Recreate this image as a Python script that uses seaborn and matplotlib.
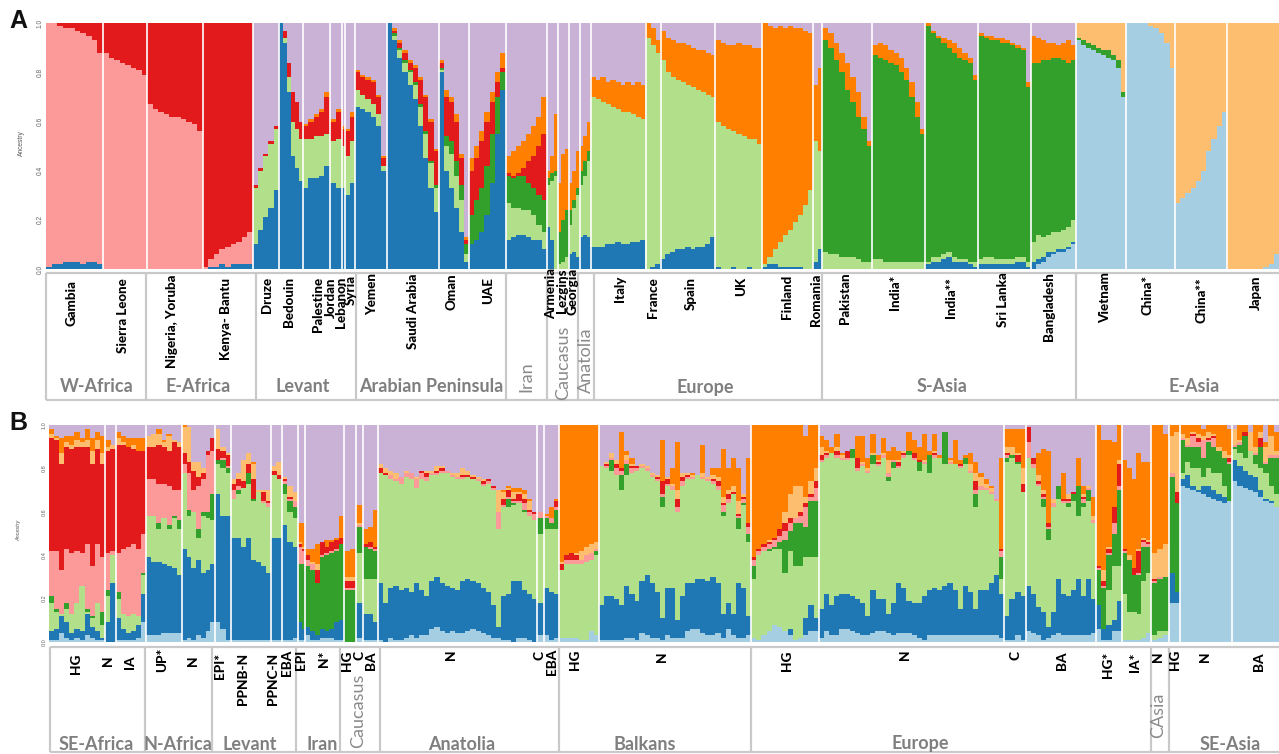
import matplotlib
matplotlib.use("Agg")
import matplotlib.pyplot as plt
import pandas as pd
import seaborn as sns

sns.set_theme(style="white")
plt.rcParams["font.family"] = ["Lato", "DejaVu Sans"]

# Components, bottom to top; values below are the upper edge of each component (percent)
COMPONENTS = ["lb", "b", "lg", "g", "p", "r", "lo", "o", "v"]
PALETTE = dict(zip(COMPONENTS, sns.color_palette("Paired", 9)))

# ---------- Panel A ----------
A_gambia = dict(b=[1,2,2,3,3,3,2,3,3,2], p=[100,100,99,98,98,97,96,95,93,88], r=[100]*10)
A_sierra = dict(p=[88,86,85,84,83,82,81,79], r=[100]*8)
A_nigeria = dict(p=[67,65,64,63,62,62,61,60,59,56], r=[100]*10)
A_kenya = dict(b=[0,1,1,2,1,2,2,2,2], p=[1,4,6,8,9,10,11,13,15], r=[100]*9)
A_druze = dict(b=[10,16,21,25,32], lg=[33,40,46,51,57], r=[34,41,47,52,58])
A_bedouin = dict(b=[100,92,72,46,41,36], lg=[100,94,78,60,57,53], r=[100,97,84,72,68,60])
A_palestine = dict(b=[33,37,37,38,42], lg=[53,53,54,54,55], r=[58,60,62,64,70], o=[59,61,63,65,72])
A_jordan = dict(b=[35,33], lg=[52,53], r=[60,64], o=[61,65])
A_lebanon = dict(b=[33,33], lg=[50,50], r=[57,57], o=[58,58])
A_syria = dict(b=[30,35], lg=[46,52], r=[56,62], o=[57,64])
A_yemen = dict(b=[66,65,64,62,58,40], lg=[73,71,69,67,63,42], r=[80,78,77,76,70,45], o=[81,79,78,77,71,46])
A_saudi = dict(b=[100,93,86,80,75,69,58,45,33,23], lg=[100,95,89,84,80,75,66,55,43,33],
               g=[100,96,90,85,81,76,67,56,44,34], r=[100,97,92,88,84,82,77,70,60,48],
               o=[100,98,93,89,85,83,78,71,61,49])
A_oman = dict(b=[80,40,33,25,15,3], lg=[81,50,47,38,28,6], g=[82,54,52,44,34,10],
              r=[84,70,68,60,45,12], o=[85,73,70,63,47,13])
A_uae = dict(b=[10,12,15,22,35,55,73], g=[22,28,33,42,55,70,80], r=[40,45,52,60,68,76,82],
             o=[45,50,56,64,72,80,88])
A_iran = dict(b=[12,13,14,14,13,12,12,8], lg=[27,25,25,24,24,22,18,15], g=[38,37,38,38,35,33,30,28],
              r=[39,38,39,41,44,46,50,55], o=[46,48,50,52,55,58,62,70])
A_armenia = dict(b=[17,12,0], lg=[34,36,38], g=[37,39,40], o=[40,46,63])
A_lezgins = dict(lg=[2,3,5], g=[15,20,24], o=[35,47,49])
A_georgia = dict(b=[6,7,5], lg=[18,25,30], g=[24,28,33], o=[35,40,48])
A_anatolia = dict(b=[13,14,13], lg=[34,38,44], g=[40,44,48], o=[50,54,60])
A_italy = dict(b=[9,9,9,10,10,11,10,10,11,11,12], lg=[70,69,68,67,66,65,64,64,63,62,61],
               o=[78,77,78,76,77,76,75,76,75,76,75])
A_france = dict(b=[0,1,2], lg=[94,91,88], o=[100,98,93])
A_spain = dict(b=[4,6,7,8,8,9,8,9,9,10,13], lg=[85,80,78,77,76,75,74,73,72,71,70],
               o=[97,94,93,92,92,91,90,89,89,88,87])
A_uk = dict(b=[1,0,0,1,0,0,1,0,0], lg=[60,58,57,56,55,54,53,53,51], o=[93,92,91,91,92,91,91,90,90])
A_finland = dict(b=[1,2,2,1,1,1,1,1,0,0], lg=[2,5,8,11,14,16,19,22,26,32],
                 o=[100,99,98,99,98,99,98,98,97,96])
A_romania = dict(b=[3,8], lg=[52,48], o=[75,82])
A_pakistan = dict(lg=[7,6,6,5,5,5,4,3,3], g=[93,90,85,80,73,68,62,57,50], o=[98,96,92,88,84,78,72,62,52])
A_india1 = dict(lg=[4,4,3,3,3,3,3,3,3,3], g=[87,86,85,84,83,80,77,70,62,55], o=[91,92,91,89,88,86,82,76,68,57])
A_india2 = dict(b=[2,3,3,4,5,3,3,3,2,1], lg=[3,5,5,6,7,5,4,4,3,3], g=[99,96,94,92,90,88,86,85,84,77],
                o=[100,97,95,94,93,92,90,88,86,79])
A_srilanka = dict(b=[2,2,2,2,2,2,2,3,3,1], lg=[4,5,5,4,4,4,4,5,5,3], g=[95,94,93,93,92,92,91,90,89,74],
                  o=[96,95,95,94,94,93,92,91,90,76])
A_bangladesh = dict(lb=[0,2,3,5,6,7,7,8,10], b=[3,4,5,7,7,8,8,9,11], lg=[11,14,13,14,15,15,16,17,20],
                    g=[84,84,85,85,86,86,85,84,85], o=[95,94,93,92,92,91,92,93,91])
A_vietnam = dict(lb=[93,91,90,89,88,87,86,85,82,70], g=[94,93,92,91,90,89,89,87,85,72], lo=[100]*10)
A_china1 = dict(lb=[100,100,100,100,99,98,96,92,82], lo=[100]*9)
A_china2 = dict(lb=[27,29,31,33,36,40,48,53,58,64], lo=[100]*10)
A_japan = dict(lb=[0,0,0,0,0,0,0,1,2,6], lo=[100]*10)

A_POPS = [A_gambia, A_sierra, A_nigeria, A_kenya, A_druze, A_bedouin, A_palestine, A_jordan, A_lebanon,
          A_syria, A_yemen, A_saudi, A_oman, A_uae, A_iran, A_armenia, A_lezgins, A_georgia, A_anatolia,
          A_italy, A_france, A_spain, A_uk, A_finland, A_romania, A_pakistan, A_india1, A_india2,
          A_srilanka, A_bangladesh, A_vietnam, A_china1, A_china2, A_japan]
A_SAMPLES = [57,44,56,50,26,24,27,12,3,10,32,52,30,37,41,11,11,11,11,55,15,55,47,51,9,50,53,53,53,45,50,49,52,52]

# ---------- Panel B ----------
B_seafrica_hg = dict(lb=[1,1,4,2,1,2,1,3,2,1,1], b=[5,6,12,9,4,6,5,13,7,5,2], lg=[18,14,13,15,13,18,26,14,11,18,8],
    g=[21,15,13,18,13,18,26,15,12,18,14], p=[42,42,33,43,41,42,41,45,35,45,39], r=[94,93,82,90,89,90,90,90,82,89,82],
    lo=[96,94,87,92,91,93,92,93,88,93,87], o=[98,95,94,95,95,97,94,98,94,97,95])
B_seafrica_n = dict(lb=[0,0], b=[9,27], lg=[21,40], g=[24,40], p=[41,42], r=[88,89], lo=[90,91], o=[93,91])
B_seafrica_ia = dict(lb=[1,1,1,1,2,9], b=[11,6,4,5,8,22], lg=[20,13,12,13,12,31], g=[23,13,12,13,12,32],
    p=[41,43,44,45,43,50], r=[91,91,90,89,88,88], lo=[94,92,90,91,88,88], o=[97,95,94,94,94,94])
B_nafrica_up = dict(lb=[3,3,3,4,4,4,4], b=[39,37,37,36,35,34,31], lg=[58,58,52,57,52,57,52], g=[58,58,55,57,54,58,56],
    p=[75,75,73,73,72,70,70], r=[90,90,91,90,88,92,90], lo=[95,96,96,92,95,93,92], o=[95,96,98,93,96,93,92])
B_nafrica_n = dict(lb=[1,2,1,3,2,5,9], b=[43,39,34,38,32,33,36], lg=[78,58,60,48,58,57,56], g=[78,61,60,52,60,60,68],
    p=[82,78,70,72,75,86,88], r=[87,83,79,76,78,88,94], lo=[99,99,83,83,80,88,94], o=[100,99,83,83,80,88,94])
B_levant_epi = dict(lb=[9,6,1], b=[68,58,58], lg=[82,80,78], g=[84,84,80], p=[84,85,81], r=[89,88,86], lo=[98,90,87], o=[98,90,87])
B_levant_ppnb = dict(lb=[1,1,1,1,1,1,1,1], b=[48,48,44,48,38,37,35,32], lg=[66,68,71,73,65,69,64,62], g=[66,70,71,78,66,69,64,62],
    p=[70,72,71,78,66,69,65,64], r=[73,75,74,82,75,69,69,65], lo=[75,78,84,87,82,70,70,70], o=[75,78,84,87,83,70,70,70])
B_levant_ppnc = dict(lb=[1,1], b=[48,48], lg=[77,75], g=[77,75], p=[77,75], r=[79,77], lo=[81,83], o=[81,83])
B_levant_eba = dict(lb=[1,1,2], b=[54,46,44], lg=[68,60,57], g=[73,65,62], p=[74,66,65], r=[75,67,65], lo=[76,72,69], o=[76,72,69])
B_iran_epi = dict(lb=[1,1], b=[9,6], lg=[9,6], g=[36,36], p=[44,42], r=[45,43], lo=[46,44], o=[55,55])
B_iran_n = dict(lb=[3,1,1,2,2,2,1,1], b=[7,5,3,6,5,6,9,10], lg=[7,5,3,6,5,6,9,10], g=[35,33,27,39,40,41,42,45],
    p=[38,36,27,40,41,42,43,45], r=[40,36,33,46,44,46,47,48], lo=[40,37,36,46,44,46,47,48], o=[43,43,45,46,47,47,48,58])
B_cauc_hg = dict(g=[24,24], p=[25,25], r=[28,28], lo=[30,30], o=[42,43])
B_cauc_c = dict(lb=[2,2], b=[18,18], lg=[41,41], g=[53,53], p=[54,54], r=[54,54], lo=[55,55], o=[63,63])
B_cauc_ba = dict(lb=[1,1,1], b=[13,13,9], lg=[29,29,29], g=[44,43,42], p=[44,44,43], r=[45,46,44], lo=[45,46,44], o=[52,53,61])
B_anat_n = dict(
    lb=[1,0,2,1,1,2,3,2,3,3,6,7,5,4,5,4,4,5,6,5,4,3,2,2,1,1,0,2,2,1,0],
    b=[27,18,25,26,24,25,23,27,24,21,28,30,27,26,25,24,28,29,28,27,25,23,17,7,21,22,28,28,24,22,20],
    lg=[78,77,75,74,73,76,75,71,75,74,77,77,78,78,76,75,75,76,75,74,72,73,70,52,62,62,63,64,60,58,56],
    g=[78,77,75,74,73,76,75,71,75,74,77,77,78,78,76,75,75,76,75,74,72,73,70,52,62,66,64,64,61,58,56],
    p=[78,77,77,75,76,78,78,75,78,76,78,78,79,79,77,76,76,76,75,75,73,74,71,60,63,67,65,65,64,60,59],
    r=[80,78,77,75,76,78,78,75,79,78,78,79,80,79,77,76,77,77,76,75,74,75,72,60,66,70,66,68,66,61,60],
    lo=[82,80,79,78,76,79,78,76,79,79,79,81,81,79,78,78,80,79,77,76,75,75,72,70,69,71,69,69,68,65,60],
    o=[82,80,79,78,76,79,78,76,79,79,79,81,81,79,78,78,80,79,77,76,75,75,72,70,70,72,71,71,70,66,60])
B_anat_c = dict(lb=[3,3], b=[18,18], lg=[50,50], g=[57,57], p=[60,60], r=[60,60], lo=[60,60], o=[60,60])
B_anat_eba = dict(lb=[3,1,2], b=[25,23,22], lg=[52,52,52], g=[57,55,61], p=[58,57,62], r=[58,57,65], lo=[58,57,65], o=[59,62,66])
B_balk_hg = dict(lb=[2,2,2,2,1,1,5,3], lg=[33,36,36,36,36,37,38,40], g=[33,36,36,36,36,37,38,42],
    p=[33,38,38,38,38,40,41,43], r=[36,40,41,40,38,40,41,43], lo=[37,40,41,41,42,44,45,46], o=[100]*8)
B_balk_n = dict(
    lb=[1,1,1,1,1,2,2,1,4,3,2,2,1,3,2,2,2,5,6,6,4,3,3,4,2,6,3,2,2,3],
    b=[17,21,21,20,17,26,22,19,28,31,27,23,11,25,25,10,21,27,27,29,29,28,30,27,13,18,13,27,25,12],
    lg=[81,80,79,77,70,77,78,79,80,79,76,74,62,72,70,60,72,75,75,77,75,74,73,70,58,64,68,52,63,46],
    g=[81,80,84,77,77,82,78,79,80,79,76,74,67,72,70,60,72,75,75,77,75,74,73,70,60,64,68,57,64,50],
    p=[81,81,85,80,79,84,80,80,81,80,77,75,68,73,72,62,74,76,76,77,76,75,74,72,63,66,68,58,66,53],
    r=[81,82,85,82,80,84,81,81,81,80,77,76,74,75,72,66,76,77,76,77,76,75,75,74,64,68,69,59,67,55],
    lo=[81,83,87,84,80,86,82,81,82,81,78,77,74,76,73,70,78,78,77,77,78,76,77,76,67,70,72,65,68,55],
    o=[81,83,87,84,97,88,85,81,82,81,78,77,93,76,80,92,78,78,78,77,91,76,80,80,89,80,85,80,68,85])
B_eur_hg = dict(lb=[2,1,3,5,8,7,5,3,1,2,3,5,5], b=[2,1,3,5,8,7,5,6,1,2,11,17,11],
    lg=[29,40,42,42,43,43,32,42,35,35,39,39,39], g=[35,40,42,43,44,46,47,51,55,55,53,65,65],
    p=[38,42,44,45,47,49,51,55,57,58,62,67,71], r=[39,43,45,46,48,52,55,57,57,60,64,68,74],
    lo=[39,43,45,47,48,52,60,68,72,72,67,74,80], o=[100,100,100,100,100,100,100,100,100,100,95,100,100])
B_eur_n = dict(
    lb=[2,5,3,3,6,6,5,4,3,3,4,5,5,4,3,4,4,4,3,2,1,3,3,3,3,3,3,3,3,3,3,3,3,3,3,2],
    b=[15,22,17,21,22,22,21,20,18,12,24,20,20,13,18,27,25,19,18,18,21,24,25,24,26,27,24,15,26,23,15,24,24,27,31,22],
    lg=[83,85,87,85,84,84,85,79,81,78,82,81,85,74,80,80,85,86,84,79,82,78,85,85,82,82,82,80,82,78,62,70,70,68,65,29],
    g=[83,85,87,85,84,84,89,79,81,78,86,81,85,76,83,80,85,88,84,83,82,86,85,85,97,82,82,80,85,78,68,70,70,68,65,39],
    p=[84,86,87,86,85,85,89,80,82,79,86,82,86,78,84,81,86,88,85,83,83,86,86,85,97,83,82,81,85,79,70,72,71,69,66,42],
    r=[86,87,87,88,85,88,89,85,82,79,86,83,86,78,84,83,87,88,87,84,83,86,87,85,97,83,82,82,85,79,74,72,71,69,66,43],
    lo=[90,88,87,90,86,88,89,85,83,80,87,84,87,84,84,84,88,88,87,84,84,86,88,85,97,84,82,82,85,82,78,76,73,71,66,43],
    o=[95,93,90,96,87,88,89,95,95,85,96,86,94,88,90,88,88,97,93,90,96,88,96,86,97,85,93,84,86,87,83,78,75,72,66,85])
B_eur_c = dict(lb=[1,1,3,1], b=[12,20,23,21], lg=[83,85,82,69], g=[85,86,83,69], p=[86,86,83,69], r=[87,86,86,73], lo=[90,90,87,80], o=[98,98,98,98])
B_eur_ba = dict(lb=[5,4,3,1,2,3,4,3,3,3,3,3,3,4], b=[26,22,16,14,7,14,29,22,21,24,29,21,29,20],
    lg=[85,80,72,62,47,62,66,64,62,65,58,62,65,55], g=[85,80,72,66,52,62,72,64,64,68,72,64,70,55],
    p=[92,82,73,67,53,64,72,65,65,68,72,66,71,56], r=[99,85,74,68,55,64,72,66,66,69,72,67,71,56],
    lo=[99,85,77,70,55,66,72,66,68,69,72,68,72,58], o=[99,85,87,89,88,66,72,78,68,69,85,72,72,67])
B_eur_hg2 = dict(lb=[6,1,1,5,5], b=[17,6,8,10,19], lg=[17,6,24,35,35], g=[33,25,40,50,70], p=[34,26,41,55,72],
    r=[35,28,43,62,82], lo=[35,33,44,62,84], o=[100,93,93,92,100])
B_eur_ia = dict(lb=[1,1,1,1,2,4], b=[1,1,1,1,2,4], lg=[22,14,14,13,28,32], g=[41,38,31,31,44,44], p=[42,38,31,32,46,45],
    r=[43,38,34,42,47,46], lo=[43,40,34,43,48,47], o=[84,80,75,87,83,83])
B_casia_n = dict(lb=[1,2,3], b=[1,2,3], lg=[3,5,5], g=[27,29,30], p=[28,30,30], r=[29,30,30], lo=[41,43,45], o=[100,100,96])
B_seasia_hg = dict(lb=[18,18], b=[32,23], lg=[32,23], g=[76,64], p=[78,64], r=[78,69], lo=[95,97], o=[100,100])
B_seasia_n = dict(lb=[72,71,70,69,68,67,66,65,64,65], b=[75,77,72,70,72,72,70,68,67,65],
    lg=[78,83,80,80,76,80,78,78,72,65], g=[93,90,90,90,85,92,90,88,85,82], p=[94,91,95,92,93,93,94,88,85,83],
    r=[94,91,96,94,93,94,95,88,85,85], lo=[96,94,97,96,95,97,96,90,88,86], o=[100,100,100,100,98,100,100,100,100,98])
B_seasia_ba = dict(lb=[74,72,71,70,69,67,65,64,62], b=[84,81,79,77,76,70,66,65,62], lg=[89,87,85,88,82,80,78,72,68],
    g=[90,91,95,88,86,90,82,85,85], p=[91,92,95,88,87,90,83,86,86], r=[91,92,97,88,87,94,83,86,86],
    lo=[98,93,97,97,90,97,90,95,88], o=[98,100,100,97,100,100,92,100,97])

B_POPS = [B_seafrica_hg, B_seafrica_n, B_seafrica_ia, B_nafrica_up, B_nafrica_n, B_levant_epi, B_levant_ppnb,
          B_levant_ppnc, B_levant_eba, B_iran_epi, B_iran_n, B_cauc_hg, B_cauc_c, B_cauc_ba, B_anat_n, B_anat_c,
          B_anat_eba, B_balk_hg, B_balk_n, B_eur_hg, B_eur_n, B_eur_c, B_eur_ba, B_eur_hg2, B_eur_ia, B_casia_n,
          B_seasia_hg, B_seasia_n, B_seasia_ba]
B_SAMPLES = [56,11,30,36,33,16,40,11,16,7,39,12,7,15,159,7,15,40,152,68,185,22,70,26,29,18,11,52,47]

YTICKS = [0, 20, 40, 60, 80, 100]
YTICK_LABELS = ["0.0", "0.2", "0.4", "0.6", "0.8", "1.0"]

# Labels: text, x centre, top edge in pixels of the 1279x754 picture
A_POP_LABELS = [("Gambia",71,280),("Sierra Leone",123,278),("Nigeria, Yoruba",172,275),("Kenya- Bantu",226,278),
    ("Druze",266.5,277),("Bedouin",289,277),("Palestine",317.6,277),("Jordan",331,277),("Lebanon",341,277),
    ("Syria",351,275),("Yemen",372,273),("Saudi Arabia",413,274),("Oman",452,273),("UAE",488,277),
    ("Armenia",551,268),("Lezgins",562,268),("Georgia",572.6,268),("Italy",620,276),("France",653.5,277),
    ("Spain",691,277),("UK",741,277),("Finland",787,275),("Romania",816,274),("Pakistan",845,272),
    ("India*",895,275),("India**",951,277),("Sri Lanka",1003,272),("Bangladesh",1049,272),("Vietnam",1105,272),
    ("China*",1147,275),("China**",1201,277),("Japan",1256,275)]
A_REGIONS = [("W-Africa",97,387,0),("E-Africa",198,387,0),("Levant",303,387,0),("Arabian Peninsula",431,387,0),
    ("Iran",526,377,90),("Caucasus",563,363,90),("Anatolia",586,360,90),("Europe",705,387,0),
    ("S-Asia",942,387,0),("E-Asia",1194,387,0)]
A_FRAME_X = [46,146,256,356,506,547,578,594,822,1076,1279]
B_POP_LABELS = [("HG",76,654),("N",108,655),("IA",130,655),("UP*",162,648),("N",193,655),("EPI*",220,653),
    ("PPNB-N",243,653),("PPNC-N",273,653),("EBA",286.5,650),("EPI",301,650),("N*",324,651),("HG",347,651),
    ("C",359,651),("BA",371,651),("N",451,650),("C",539,651),("EBA",552,649),("HG",575.5,650),("N",662.4,651),
    ("HG",787,651),("N",905,650),("C",1015.5,651),("BA",1062,651),("HG*",1108,652),("IA*",1135,652),
    ("N",1158,652),("HG",1175,650),("N",1205,651),("BA",1259,652)]
B_REGIONS = [("SE-Africa",96,744,0),("N-Africa",177.5,744,0),("Levant",250,744,0),("Iran",322,744,0),
    ("Caucasus",358,711,90),("Anatolia",462,744,0),("Balkans",645,744,0),("Europe",920,744,0),
    ("CAsia",1158,715,90),("SE-Asia",1230,744,0)]
B_FRAME_X = [50,145,212,296,340,380,559,751,1151,1168.6,1279]

W, H = 1279, 754
fig = plt.figure(figsize=(W / 100, H / 100), dpi=100, facecolor="white")


def make_axes(left, top, bottom):
    return fig.add_axes([left / W, 1 - bottom / H, (W - left) / W, (bottom - top) / H])


def draw_panel(ax, pops, samples):
    start = 0
    for pop, size in zip(pops, samples):
        n = len(next(iter(pop.values())))
        step = size / n
        frame = pd.DataFrame(pop)
        frame["x"] = [start + (i + 0.5) * step for i in range(n)]
        frame["v"] = 100
        for comp in reversed(COMPONENTS):
            if comp in frame:
                sns.barplot(data=frame, x="x", y=comp, color=PALETTE[comp], native_scale=True, orient="x",
                            width=1.03, errorbar=None, saturation=1, linewidth=0, ax=ax)
        start += size
        if start < sum(samples):
            ax.axvline(start, color="white", lw=1.2, zorder=5)
    ax.set_xlim(0, sum(samples))
    ax.set_ylim(0, 100)
    ax.set_xlabel("")
    ax.set_xticks([])
    ax.set_yticks(YTICKS, YTICK_LABELS)
    ax.set_ylabel("")
    for spine in ax.spines.values():
        spine.set_visible(False)
    ax.tick_params(axis="y", length=0, pad=1.5, labelsize=4.8, labelcolor="#666666", labelrotation=90)
    for lab in ax.get_yticklabels():
        lab.set_va("center")
        lab.set_family(["Liberation Sans"])


ax_a = make_axes(46, 23.3, 269)
draw_panel(ax_a, A_POPS, A_SAMPLES)
ax_b = make_axes(49, 425, 642)
draw_panel(ax_b, B_POPS, B_SAMPLES)
for lab in ax_b.get_yticklabels():
    lab.set_fontsize(4)

over = fig.add_axes([0, 0, 1, 1], facecolor="none")
over.set_xlim(0, W)
over.set_ylim(H, 0)
over.axis("off")

FRAME = "#c9c9c9"
for xs, top, bottom in [(A_FRAME_X, 273, 400), (B_FRAME_X, 647, 752)]:
    over.plot([xs[0], xs[-1]], [top, top], color=FRAME, lw=1.6, solid_capstyle="butt")
    over.plot([xs[0], xs[-1]], [bottom, bottom], color=FRAME, lw=1.6, solid_capstyle="butt")
    for x in xs[:-1]:
        over.plot([x, x], [top, bottom], color=FRAME, lw=1.6, solid_capstyle="butt")

for labels, size in [(A_POP_LABELS, 9.6), (B_POP_LABELS, 9.8)]:
    for text, x, y in labels:
        over.text(x, y, text, rotation=90, ha="center", va="top", fontsize=size, fontweight="black", color="#000000")
for regions in (A_REGIONS, B_REGIONS):
    for text, x, y, rot in regions:
        over.text(x, y, text, rotation=rot, ha="center", va="center", fontsize=13,
                  fontweight="normal" if rot else "bold", color="#8a8a8a" if rot else "#7f7f7f")

over.text(21, 143, "Ancestry", rotation=90, ha="center", va="center", fontsize=4.8, color="#555555",
          family=["Liberation Sans"])
over.text(19, 530, "Ancestry", rotation=90, ha="center", va="center", fontsize=4, color="#555555", style="italic",
          family=["Liberation Sans"])
over.text(9, 21, "A", ha="left", va="center", fontsize=18, fontweight="bold", color="#111111", family=["Liberation Sans"])
over.text(9, 423, "B", ha="left", va="center", fontsize=18, fontweight="bold", color="#111111", family=["Liberation Sans"])

fig.savefig("out.png", dpi=100)
